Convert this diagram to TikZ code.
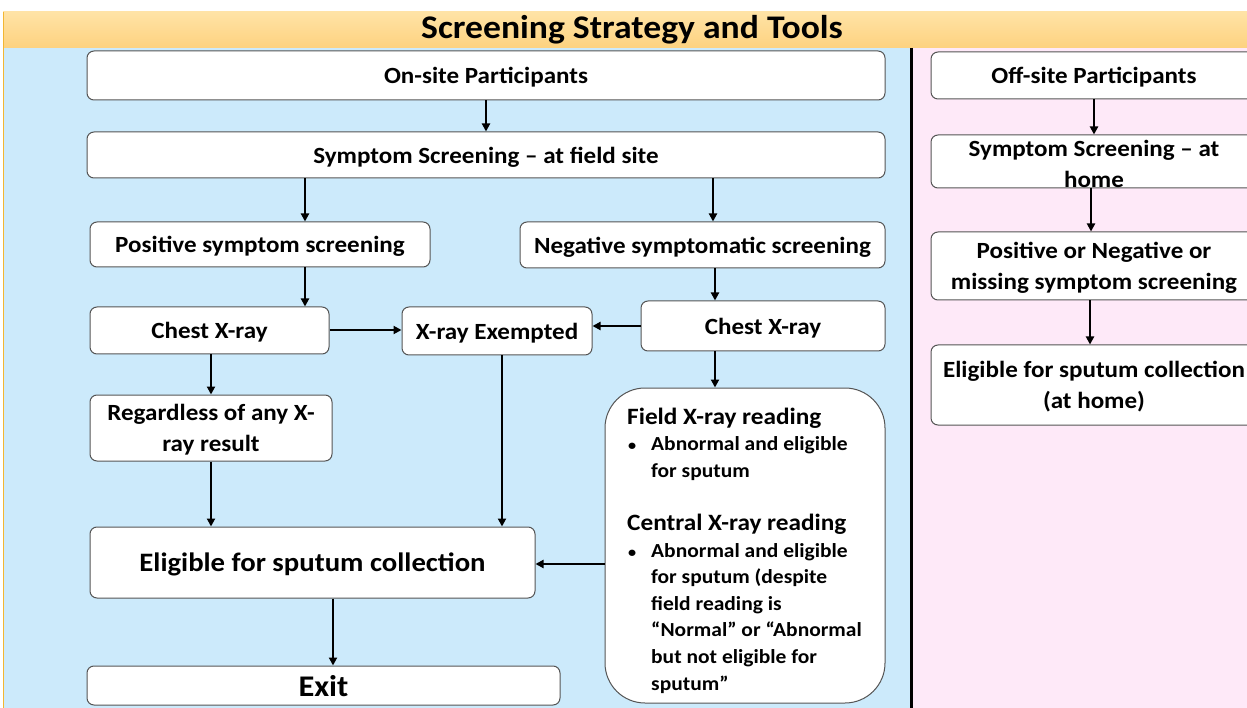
\documentclass[tikz,border=0pt]{standalone}
\usepackage{fontspec}
\setmainfont{Carlito}[FakeStretch=1.08]
\usetikzlibrary{arrows.meta,calc}
\definecolor{headtop}{HTML}{FFE3A6}
\definecolor{headbot}{HTML}{FDD27F}
\definecolor{headline}{HTML}{F2B632}
\definecolor{onsitebg}{HTML}{CCEAFB}
\definecolor{offsitebg}{HTML}{FEE9F8}
\definecolor{boxline}{HTML}{555555}
\newcommand{\boxfont}{\bfseries\fontsize{23.2}{30.5}\selectfont}
\newcommand{\bul}{\makebox[24pt][l]{\hspace{1pt}{\fontsize{15}{15}\selectfont•}}}
\tikzset{
  box/.style={draw=boxline, line width=1pt, fill=white, rounded corners=7pt,
    inner sep=0pt, align=center, text depth=0pt, font=\boxfont},
  lbl/.style={inner sep=0pt, align=center, text depth=0pt, font=\boxfont},
  arr/.style={line width=2.4pt, -{Triangle[length=8pt,width=8pt]}}
}
\begin{document}
\begin{tikzpicture}[x=1pt,y=-1pt]
\useasboundingbox (0,0) rectangle (1247,708);
\clip (0,0) rectangle (1247,708);
% backgrounds
\fill[white] (0,0) rectangle (1247,708);
\shade[top color=headtop, bottom color=headbot] (3,12) rectangle (1247,48);
\fill[onsitebg] (3,48) rectangle (910,708);
\fill[offsitebg] (913,48) rectangle (1247,708);
\draw[headline, line width=1.2pt] (3.5,12) -- (3.5,708);
\draw[line width=3pt] (911.5,48) -- (911.5,708);
\node[inner sep=0pt, font=\bfseries\fontsize{33}{36}\selectfont] (title) at (632,30) {Screening Strategy and Tools};

% on-site column
\node[box, minimum width=798pt, minimum height=49pt] (on) at (486,75.5) {On-site Participants};
\node[box, minimum width=798pt, minimum height=46pt] (sym) at (486,155) {Symptom Screening -- at field site};
\node[box, minimum width=340pt, minimum height=45pt] (pos) at (260,244.5) {Positive symptom screening};
\node[box, minimum width=365pt, minimum height=46pt] (neg) at (702.5,245) {Negative symptomatic screening};
\node[box, minimum width=239pt, minimum height=47pt] (cxl) at (209.5,330.5) {Chest X-ray};
\node[box, minimum width=190pt, minimum height=48pt] (exm) at (497,331) {X-ray Exempted};
\node[box, minimum width=244pt, minimum height=50pt] (cxr) at (763,326) {Chest X-ray};
\node[box, minimum width=242pt, minimum height=66pt] (reg) at (211,428) {Regardless of any X-\\ray result};
\node[box, rounded corners=40pt, minimum width=280pt, minimum height=315pt] (read) at (745,545.5) {};
\node[inner sep=0pt, anchor=north west, align=left, font=\bfseries\fontsize{19.9}{26.6}\selectfont] (readtxt) at (627,407.5)
  {{\fontsize{23.4}{26.6}\selectfont Field X-ray reading}\\
   \bul Abnormal and eligible\\
   \hspace*{24pt}for sputum\\[26.6pt]
   {\fontsize{23.4}{26.6}\selectfont Central X-ray reading}\\
   \bul Abnormal and eligible\\
   \hspace*{24pt}for sputum (despite\\
   \hspace*{24pt}field reading is\\
   \hspace*{24pt}“Normal” or “Abnormal\\
   \hspace*{24pt}but not eligible for\\
   \hspace*{24pt}sputum”};
\node[box, minimum width=445pt, minimum height=71pt, font=\bfseries\fontsize{26.6}{30}\selectfont] (elig) at (312.5,562.5) {Eligible for sputum collection};
\node[box, minimum width=473pt, minimum height=39pt, font=\bfseries\fontsize{30}{32}\selectfont] (exit) at (323.5,685.5) {Exit};

% connector columns
\coordinate (c305) at (305,0);
\coordinate (c713) at (713,0);
\coordinate (c715) at (715,0);
\coordinate (c211) at (211,0);
\coordinate (c502) at (502,0);
\coordinate (c333) at (333,0);
\coordinate (y330) at (0,330);
\coordinate (y326) at (0,326);
\coordinate (y564) at (0,564);

\draw[arr] (on.south) -- (sym.north);
\draw[arr] (sym.south -| c305) -- (pos.north -| c305);
\draw[arr] (sym.south -| c713) -- (neg.north -| c713);
\draw[arr] (pos.south -| c305) -- (cxl.north -| c305);
\draw[arr] (neg.south -| c715) -- (cxr.north -| c715);
\draw[arr] (cxl.east |- y330) -- (exm.west |- y330);
\draw[arr] (cxr.west |- y326) -- (exm.east |- y326);
\draw[arr] (cxl.south -| c211) -- (reg.north -| c211);
\draw[arr] (cxr.south -| c715) -- (read.north -| c715);
\draw[arr] (reg.south -| c211) -- (elig.north -| c211);
\draw[arr] (exm.south -| c502) -- (elig.north -| c502);
\draw[arr] (read.west |- y564) -- (elig.east |- y564);
\draw[arr] (elig.south -| c333) -- (exit.north -| c333);

% off-site column
\node[box, minimum width=326pt, minimum height=47pt] (off) at (1094,75.5) {Off-site Participants};
\node[box, minimum width=326pt, minimum height=53pt] (home) at (1094,161.5) {};
\node[lbl] (hometxt) at (1094,164) {Symptom Screening -- at\\home};
\node[box, minimum width=326pt, minimum height=68pt] (pn) at (1094,266) {Positive or Negative or\\missing symptom screening};
\node[box, minimum width=326pt, minimum height=80pt] (eh) at (1094,385) {Eligible for sputum collection\\(at home)};

\coordinate (c1094) at (1094,0);
\coordinate (c1091) at (1091,0);
\coordinate (c1090) at (1090,0);
\draw[arr] (off.south -| c1094) -- (home.north -| c1094);
\draw[arr] (home.south -| c1091) -- (pn.north -| c1091);
\draw[arr] (pn.south -| c1090) -- (eh.north -| c1090);
\end{tikzpicture}
\end{document}
